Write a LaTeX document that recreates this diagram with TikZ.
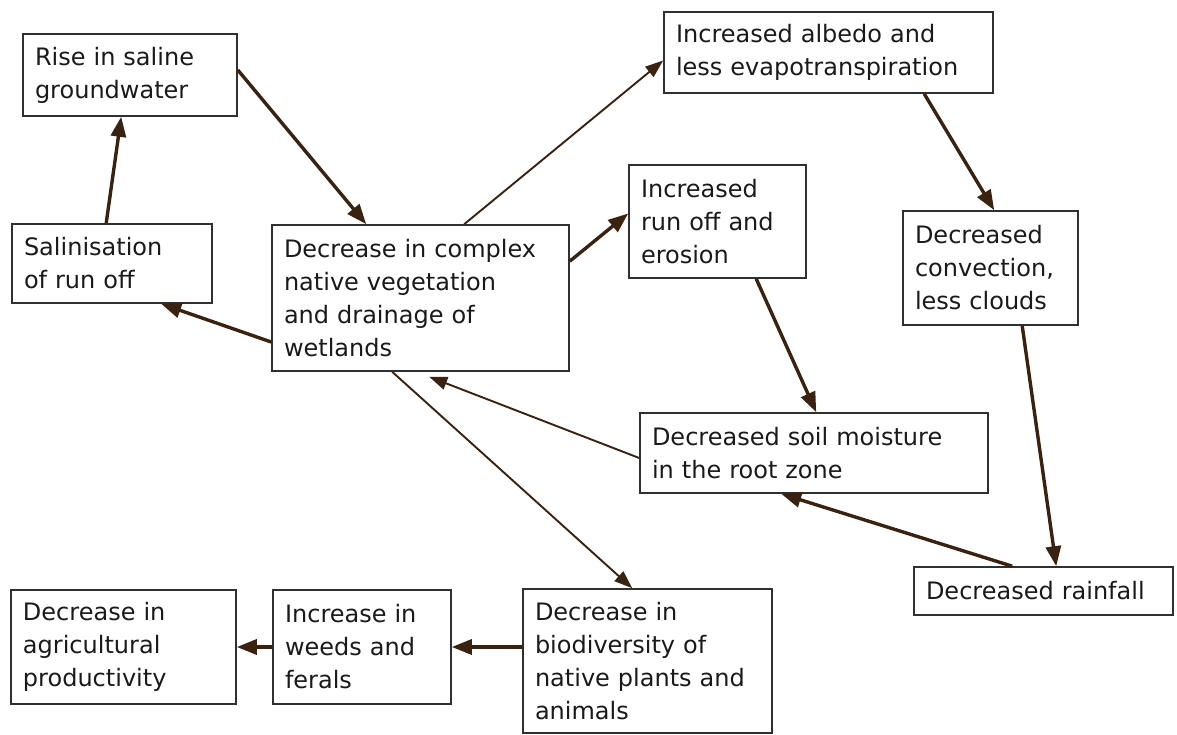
\documentclass[tikz,border=0pt]{standalone}
\usepackage{fontspec}
\setmainfont{DejaVu Sans}
\usepackage{tikz}
\usetikzlibrary{arrows.meta}

\definecolor{arrowbrown}{HTML}{3A2210}
\definecolor{boxline}{HTML}{303030}
\definecolor{boxtext}{HTML}{1A1A1A}

\begin{document}
\begin{tikzpicture}[x=1pt,y=-1pt,
    box/.style={draw=boxline, line width=1.6pt, inner xsep=12pt, inner ysep=2pt,
        align=left, text=boxtext, font=\fontsize{24}{33}\selectfont},
    thickarr/.style={draw=arrowbrown, line width=3.4pt, -{Triangle[length=20pt,width=15pt]}},
    thinarr/.style={draw=arrowbrown, line width=1.9pt, -{Triangle[length=18pt,width=13pt]}}]
    \useasboundingbox (0,0) rectangle (1177,735);
    \fill[white] (0,0) rectangle (1177,735);

    \node[box, text width=190pt, minimum height=82pt] (rise) at (130,75) {Rise in saline\\groundwater};
    \node[box, text width=176pt, minimum height=79pt] (salin) at (112,263.5) {Salinisation\\of run off};
    \node[box, text width=273pt, minimum height=146pt] (veg) at (420.5,298) {Decrease in complex\\native vegetation\\and drainage of\\wetlands};
    \node[box, text width=305pt, minimum height=81pt] (albedo) at (828.5,52.5) {Increased albedo and\\less evapotranspiration};
    \node[box, text width=153pt, minimum height=113pt] (runoff) at (717.5,221.5) {Increased\\run off and\\erosion};
    \node[box, text width=151pt, minimum height=114pt] (convect) at (990.5,268) {Decreased\\convection,\\less clouds};
    \node[box, text width=324pt, minimum height=80pt] (soil) at (814,453) {Decreased soil moisture\\in the root zone};
    \node[box, text width=235pt, minimum height=48pt] (rain) at (1043.5,591) {Decreased rainfall};
    \node[box, text width=225pt, minimum height=144pt] (biodiv) at (647.5,661) {Decrease in\\biodiversity of\\native plants and\\animals};
    \node[box, text width=154pt, minimum height=114pt] (weeds) at (362,647) {Increase in\\weeds and\\ferals};
    \node[box, text width=201pt, minimum height=114pt] (agri) at (123.5,647) {Decrease in\\agricultural\\productivity};

    % salinity loop
    \draw[thickarr] ([xshift=95pt]salin.north west) -- ([xshift=99pt]rise.south west);
    \draw[thickarr] ([yshift=5pt]rise.east) -- ([xshift=95pt]veg.north west);
    \draw[thickarr] ([yshift=-44pt]veg.west) -- ([xshift=150pt]salin.south west);

    % climate side
    \draw[thinarr] ([xshift=193pt]veg.north west) -- ([yshift=-8pt]albedo.west);
    \draw[thickarr] ([yshift=-37pt]veg.north east) -- ([yshift=8pt]runoff.west);
    \draw[thickarr] ([xshift=261pt]albedo.south west) -- ([xshift=92pt]convect.north west);
    \draw[thickarr] ([xshift=128pt]runoff.south west) -- ([xshift=177pt]soil.north west);
    \draw[thickarr] ([xshift=120pt]convect.south west) -- ([xshift=143pt]rain.north west);
    \draw[thickarr] ([xshift=99pt]rain.north west) -- ([xshift=142pt]soil.south west);
    \draw[thinarr] ([yshift=-5pt]soil.west) -- ([xshift=158pt,yshift=-5pt]veg.south west);

    % bottom row
    \draw[thinarr] ([xshift=121pt]veg.south west) -- ([xshift=110pt]biodiv.north west);
    \draw[thickarr] (biodiv.west |- weeds.east) -- (weeds.east);
    \draw[thickarr] (weeds.west) -- (agri.east);
\end{tikzpicture}
\end{document}
